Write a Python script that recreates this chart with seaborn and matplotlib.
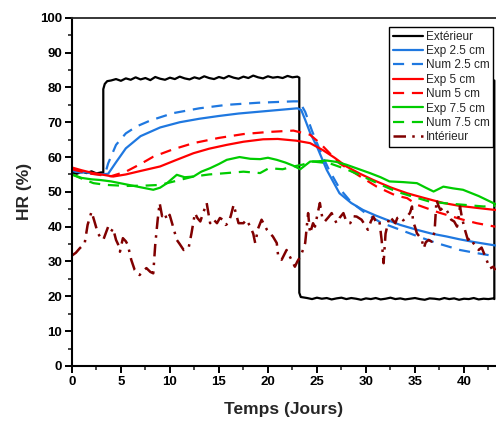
#!/usr/bin/env python3
"""
Relative humidity (HR) over time: exterior, interior, and measured vs
simulated values at 2.5, 5 and 7.5 cm depth.
"""

import numpy as np
import pandas as pd
import matplotlib
matplotlib.use("Agg")
import matplotlib.pyplot as plt
import seaborn as sns

# ---------------- data ----------------
# Exterior (square signal with small noise)
ext_days_start = [0.0, 0.5, 1.0, 1.5, 2.0, 2.5, 3.0, 3.2]
ext_hr_start = [55.5, 55.2, 55.8, 55.4, 55.9, 55.3, 55.6, 55.4]
ext_days_high = [3.2, 3.35, 3.6, 4.0] + list(np.arange(4.5, 23.01, 0.5)) + [23.2]
ext_hr_high = [79.5, 81.0, 81.8, 82.0,
               82.4, 81.9, 82.6, 82.2, 82.9, 82.3, 82.7, 82.1, 83.0, 82.5,
               82.2, 82.8, 82.4, 83.1, 82.6, 82.3, 82.9, 82.5, 83.2, 82.7,
               82.4, 83.0, 82.6, 83.3, 82.8, 82.5, 83.1, 82.7, 83.4, 82.9,
               82.6, 83.2, 82.8, 83.0, 82.7, 83.3, 82.9, 83.1, 82.8]
ext_days_low = [23.2, 23.35] + list(np.arange(24.0, 43.01, 0.5)) + [43.1, 43.1]
ext_hr_low = [21.0, 19.8,
              19.5, 19.2, 19.6, 19.3, 19.5, 19.1, 19.4, 19.6, 19.2, 19.5,
              19.3, 19.0, 19.4, 19.2, 19.5, 19.1, 19.3, 19.6, 19.2, 19.4,
              19.1, 19.3, 19.5, 19.2, 19.0, 19.4, 19.3, 19.1, 19.5, 19.2,
              19.4, 19.0, 19.3, 19.2, 19.5, 19.1, 19.3, 19.2, 19.4,
              19.2, 82.0]
ext_days = ext_days_start + ext_days_high + ext_days_low
ext_hr = ext_hr_start + ext_hr_high + ext_hr_low

# Exp / Num 2.5 cm
exp25_days = [0, 1, 2, 3, 3.7, 4.5, 5.5, 7, 9, 11, 13, 15, 17, 19, 21, 23, 23.4,
              23.8, 24.3, 25, 26, 27.3, 28.5, 29.7, 31, 32.1, 33.5, 35.2, 36.7,
              38.2, 39.5, 41, 43.2]
exp25_hr = [56.5, 55.8, 55.3, 55.0, 55.2, 58.5, 62.5, 66.0, 68.5, 70.0, 71.0,
            71.8, 72.5, 73.0, 73.5, 74.0, 73.5, 70.7, 67.0, 63.0, 56.3, 49.6,
            46.8, 44.8, 43.2, 42.0, 40.5, 39.1, 38.0, 37.2, 36.4, 35.6, 34.6]
num25_days = [0, 1, 2, 3, 3.4, 3.7, 4.5, 5.5, 6.6, 8, 10.3, 13, 15.8, 19, 22.6,
              23.2, 23.8, 24.5, 25.3, 26.2, 27.3, 28.5, 30, 31.5, 33.5, 35.5,
              37.2, 39.6, 41.3, 43.2]
num25_hr = [56.0, 55.5, 55.2, 55.0, 55.3, 58.2, 63.5, 66.8, 68.8, 70.5, 72.6,
            74.0, 75.0, 75.6, 76.0, 76.0, 73.0, 67.5, 62.0, 56.5, 51.0, 47.0,
            43.8, 41.2, 39.1, 37.0, 35.3, 33.3, 32.4, 31.5]

# Exp / Num 5 cm
exp5_days = [0, 1, 2, 3, 4.2, 5.5, 7, 9, 10.5, 12.4, 14, 15.8, 17.5, 19.5, 21,
             22.9, 24.3, 25.6, 26.8, 28, 29.4, 30.75, 32.5, 34.2, 36, 37.9,
             39.5, 41.3, 43.2]
exp5_hr = [57.0, 56.2, 55.5, 55.0, 54.4, 55.0, 56.0, 57.3, 59.0, 61.1, 62.4,
           63.5, 64.4, 65.1, 65.2, 64.7, 64.0, 62.0, 59.8, 57.3, 55.2, 53.4,
           51.3, 49.6, 48.2, 46.8, 46.0, 45.4, 44.8]
num5_days = [0, 1, 2, 3, 4, 5.5, 7, 8.3, 10.3, 12.4, 15, 17.5, 20, 22.6, 24.3,
             25.3, 26.3, 27.3, 29.2, 31.1, 33, 34.2, 35.2, 37.5, 39.9, 41.3,
             43.2]
num5_hr = [56.5, 55.8, 55.2, 54.8, 54.5, 55.8, 58.0, 60.1, 62.2, 64.0, 65.5,
           66.6, 67.2, 67.6, 66.4, 64.0, 61.1, 58.2, 54.8, 51.5, 49.0, 48.2,
           46.3, 44.0, 42.0, 41.0, 40.0]

# Exp / Num 7.5 cm
exp75_days = [0, 1, 2, 2.9, 4, 4.9, 6.5, 8.3, 9.0, 9.7, 10.7, 11.5, 12.4, 13.2,
              14.1, 15.0, 15.8, 17.1, 18.2, 19.2, 20.0, 20.9, 21.8, 22.6, 23.3,
              24.3, 25.2, 26.0, 27.0, 28.0, 29.2, 30.4, 31.5, 32.4, 33.8, 35.2,
              36.1, 36.9, 37.9, 38.9, 39.9, 41.5, 43.2]
exp75_hr = [55.0, 54.0, 53.6, 53.4, 53.0, 52.5, 51.6, 50.6, 51.2, 52.5, 54.9,
            54.2, 54.4, 55.8, 56.8, 58.0, 59.2, 60.0, 59.5, 59.4, 59.8, 59.2,
            58.4, 57.5, 56.5, 58.7, 58.8, 59.0, 58.6, 57.8, 56.6, 55.4, 54.2,
            53.0, 52.8, 52.5, 51.2, 50.1, 51.5, 51.0, 50.6, 48.8, 46.5]
num75_days = [0, 1, 2.2, 3.5, 5.6, 7.5, 9, 10.7, 12.4, 14, 15.8, 17.5, 19.2,
              20.1, 21.5, 22.6, 23.5, 24.6, 26.3, 28, 29.7, 31.4, 33.1, 34.8,
              36.5, 38.2, 39.9, 42, 43.2]
num75_hr = [55.0, 53.8, 52.5, 52.0, 51.7, 51.8, 52.0, 53.2, 54.4, 55.0, 55.4,
            55.8, 55.4, 56.8, 56.5, 57.3, 57.8, 58.7, 58.2, 56.5, 54.4, 52.2,
            50.1, 48.6, 47.2, 46.7, 46.3, 45.8, 46.0]

# Interior (noisy measurement)
int_days = [0.0, 0.4, 0.8, 1.1, 1.3, 1.6, 2.0, 2.3, 2.65, 2.9, 3.2, 3.5, 3.7,
            4.0, 4.2, 4.5, 4.7, 4.9, 5.2, 5.5, 5.7, 6.05, 6.4, 6.9, 7.3, 7.6,
            8.0, 8.3, 8.5, 8.75, 8.95, 9.2, 9.45, 9.7, 9.97, 10.3, 10.7, 11.0,
            11.4, 11.9, 12.2, 12.55, 12.8, 13.1, 13.4, 13.75, 14.1, 14.4, 14.8,
            15.1, 15.4, 15.7, 15.95, 16.2, 16.5, 17.0, 17.5, 17.8, 18.2, 18.5,
            18.7, 19.0, 19.35, 19.9, 20.2, 20.5, 20.9, 21.05, 21.4, 21.9, 22.4,
            22.75, 23.0, 23.3, 23.6, 23.8, 24.1, 24.3, 24.6, 24.8, 25.05, 25.3,
            25.55, 25.8, 26.2, 26.5, 27.0, 27.3, 27.7, 28.0, 28.4, 28.7, 29.05,
            29.55, 29.9, 30.2, 30.5, 30.75, 31.0, 31.25, 31.4, 31.6, 31.8, 32.0,
            32.4, 32.7, 33.0, 33.2, 33.5, 33.8, 34.2, 34.5, 34.7, 34.8, 35.0,
            35.2, 35.5, 35.7, 35.9, 36.1, 36.4, 36.7, 37.0, 37.2, 37.4, 37.6,
            37.9, 38.2, 38.5, 38.7, 39.0, 39.3, 39.6, 39.8, 40.1, 40.4, 40.7,
            40.95, 41.2, 41.5, 41.8, 41.95, 42.3, 42.65, 43.0, 43.2]
int_hr = [31.7, 32.5, 33.8, 34.6, 35.2, 40.5, 44.3, 41.5, 38.1, 37.0, 36.2,
          38.5, 40.0, 38.6, 39.5, 36.2, 35.0, 32.8, 36.7, 35.8, 34.8, 30.5,
          27.6, 26.1, 27.3, 28.1, 27.0, 26.6, 34.8, 42.0, 46.8, 43.0, 43.9,
          42.0, 43.4, 40.2, 36.2, 35.0, 33.3, 33.8, 38.1, 43.9, 42.5, 41.5,
          44.0, 46.8, 41.0, 42.2, 41.0, 42.5, 42.0, 40.5, 41.0, 43.0, 46.3,
          41.0, 41.0, 42.0, 40.0, 38.0, 35.3, 39.5, 42.0, 39.1, 38.1, 37.2,
          35.3, 31.4, 30.5, 33.3, 30.5, 28.5, 30.0, 31.4, 33.5, 35.3, 43.9,
          38.1, 41.0, 40.0, 43.5, 46.8, 42.5, 41.5, 42.8, 43.9, 41.0, 42.5,
          43.9, 41.5, 41.0, 43.0, 42.9, 42.0, 40.5, 39.1, 41.5, 42.9, 41.5,
          42.0, 41.0, 36.2, 29.5, 38.0, 42.9, 42.0, 41.0, 42.5, 42.9, 41.8,
          42.9, 44.0, 45.8, 41.5, 40.0, 38.1, 37.0, 36.2, 33.8, 35.5, 36.2,
          35.7, 38.5, 47.7, 46.0, 44.8, 45.5, 44.8, 43.5, 42.0, 41.5, 40.0,
          45.8, 42.5, 39.1, 36.2, 36.8, 35.3, 34.5, 33.3, 34.0, 33.0, 30.5,
          28.0, 28.5, 27.5]

COLORS = {
    "Extérieur": "black",
    "Exp 2.5 cm": "#1f78e0",
    "Num 2.5 cm": "#1f78e0",
    "Exp 5 cm": "#ff0000",
    "Num 5 cm": "#ff0000",
    "Exp 7.5 cm": "#00cc00",
    "Num 7.5 cm": "#00cc00",
    "Intérieur": "#800000",
}


def build_frames():
    """One small table per series, in legend order"""
    series = [
        ("Extérieur", ext_days, ext_hr),
        ("Exp 2.5 cm", exp25_days, exp25_hr),
        ("Num 2.5 cm", num25_days, num25_hr),
        ("Exp 5 cm", exp5_days, exp5_hr),
        ("Num 5 cm", num5_days, num5_hr),
        ("Exp 7.5 cm", exp75_days, exp75_hr),
        ("Num 7.5 cm", num75_days, num75_hr),
        ("Intérieur", int_days, int_hr),
    ]
    frames = []
    for name, d, v in series:
        frames.append(pd.DataFrame({"Temps": d, "HR": v, "Serie": name}))
    return frames


def main():
    sns.set_style("ticks")
    plt.rcParams["font.family"] = ["Liberation Sans", "DejaVu Sans"]

    fig = plt.figure(figsize=(4.96, 4.24), dpi=100)
    ax = fig.add_axes([0.145, 0.137, 0.855, 0.821])

    dashed = (0, (5, 3.5))
    styles = {
        "Extérieur": dict(linestyle="-", lw=1.6),
        "Exp 2.5 cm": dict(linestyle="-", lw=1.6),
        "Num 2.5 cm": dict(linestyle=dashed, lw=1.6),
        "Exp 5 cm": dict(linestyle="-", lw=1.6),
        "Num 5 cm": dict(linestyle=dashed, lw=1.6),
        "Exp 7.5 cm": dict(linestyle="-", lw=1.6),
        "Num 7.5 cm": dict(linestyle=dashed, lw=1.6),
        "Intérieur": dict(linestyle=(0, (5, 2.5, 1, 2.5)), lw=1.8),
    }

    for df in build_frames():
        name = df["Serie"].iloc[0]
        sns.lineplot(data=df, x="Temps", y="HR", sort=False, estimator=None,
                     color=COLORS[name], label=name, ax=ax, **styles[name])

    ax.set_xlim(0, 43.27)
    ax.set_ylim(0, 100)
    ax.set_xticks(np.arange(0, 41, 5))
    ax.set_xticks(np.arange(2.5, 43, 5), minor=True)
    ax.set_yticks(np.arange(0, 101, 10))
    ax.set_yticks(np.arange(5, 100, 10), minor=True)

    ax.set_xlabel("Temps (Jours)", fontsize=12.5, fontweight="bold", labelpad=10)
    ax.set_ylabel("HR (%)", fontsize=12.5, fontweight="bold", labelpad=6)

    for lbl in ax.get_xticklabels() + ax.get_yticklabels():
        lbl.set_fontweight("bold")
    ax.tick_params(axis="both", which="major", direction="out", length=5,
                   width=1.4, labelsize=9.5, pad=2, colors="black")
    ax.tick_params(axis="both", which="minor", direction="out", length=3,
                   width=1.2)

    for side in ["left", "bottom"]:
        ax.spines[side].set_linewidth(1.5)
        ax.spines[side].set_color("black")
    ax.spines["top"].set_visible(True)
    ax.spines["top"].set_linewidth(1.3)
    ax.spines["right"].set_visible(False)
    ax.grid(False)

    leg = ax.legend(loc="upper right", bbox_to_anchor=(0.993, 0.973),
                    fontsize=8.5, frameon=True, fancybox=False,
                    handlelength=2.6, handletextpad=0.2, labelspacing=0.2,
                    borderpad=0.3, borderaxespad=0.0)
    leg.get_frame().set_edgecolor("black")
    leg.get_frame().set_linewidth(1.0)
    leg.get_frame().set_alpha(1.0)

    fig.savefig("out.png", dpi=100, facecolor="white")


if __name__ == "__main__":
    main()
